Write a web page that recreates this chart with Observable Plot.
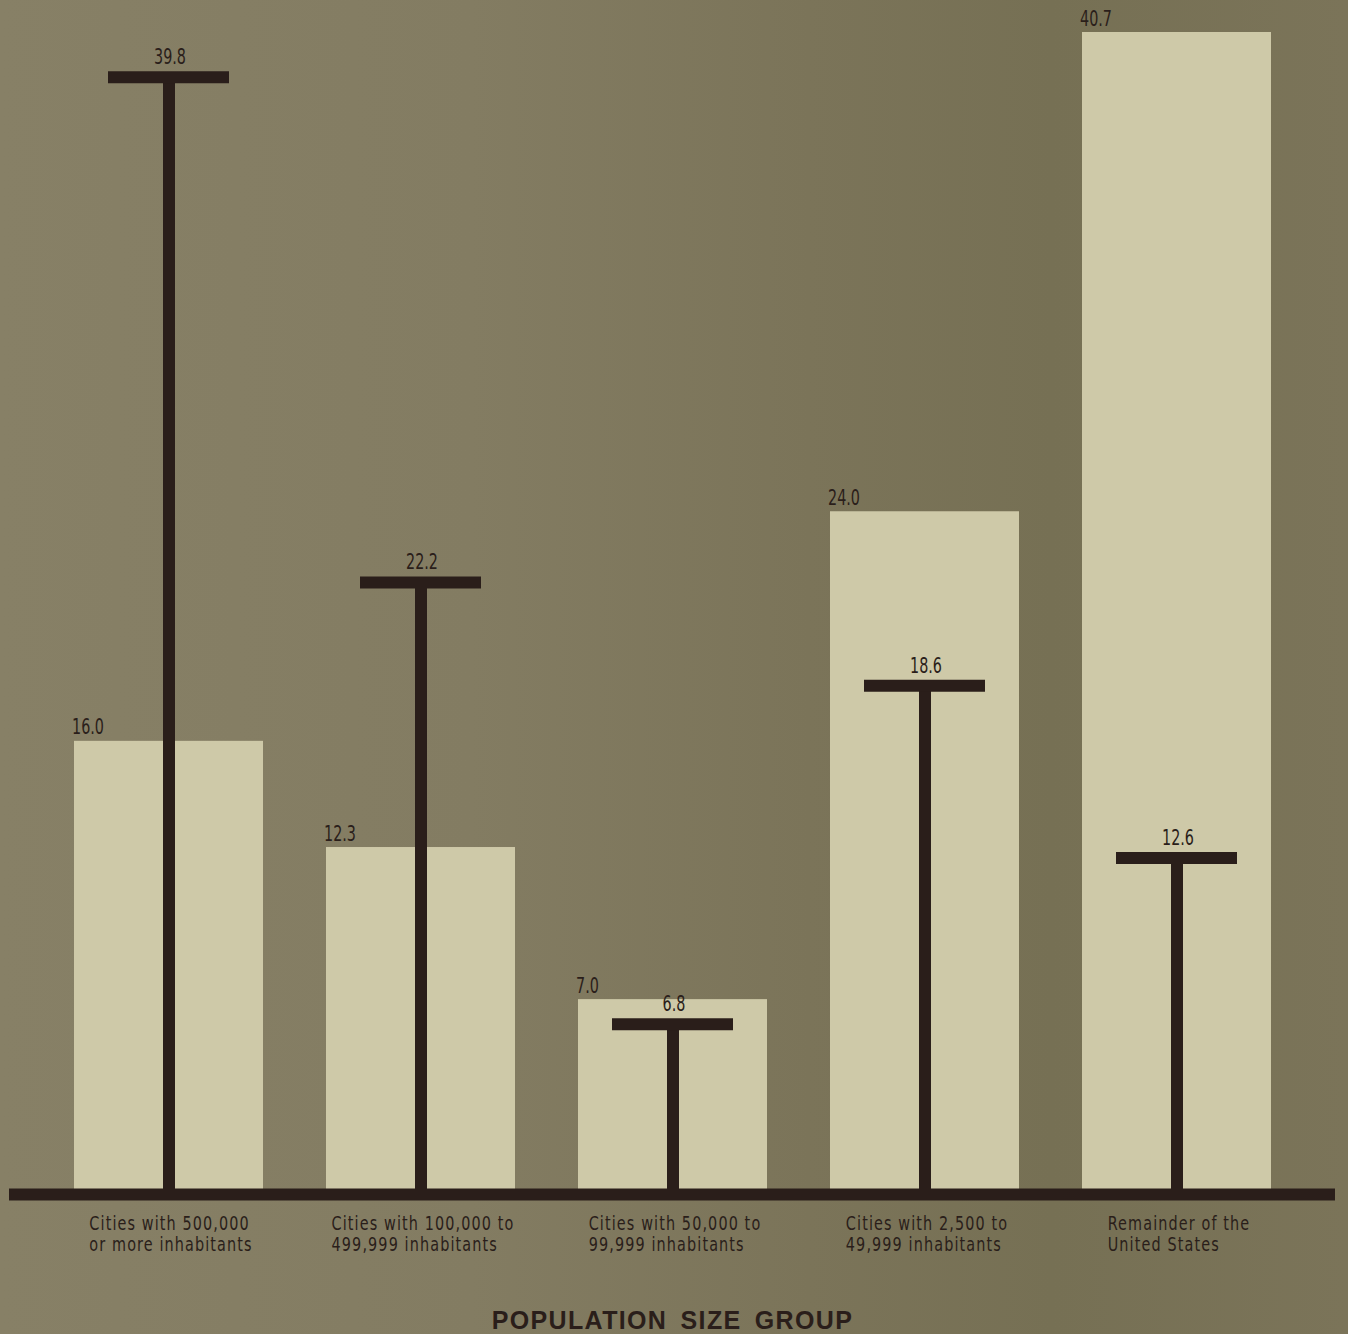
<!DOCTYPE html>
<html>
<head>
<meta charset="utf-8">
<script src="https://cdn.jsdelivr.net/npm/d3@7"></script>
<script src="https://cdn.jsdelivr.net/npm/@observablehq/plot@0.6"></script>
<style>
  html, body { margin: 0; padding: 0; }
  body {
    width: 1348px; height: 1334px; overflow: hidden;
    background: linear-gradient(90deg, #878066 0%, #837c62 35%, #7b7459 60%, #767054 78%, #7b7459 100%);
  }
  #chart svg { display: block; background: transparent; }
</style>
</head>
<body>
<div id="chart"></div>
<script>
// Categories (x labels, two lines each)
const categories = [
  "Cities with 500,000\nor more inhabitants",
  "Cities with 100,000 to\n499,999 inhabitants",
  "Cities with 50,000 to\n99,999 inhabitants",
  "Cities with 2,500 to\n49,999 inhabitants",
  "Remainder of the\nUnited States"
];
// Light bars
const barValues = [16.0, 12.3, 7.0, 24.0, 40.7];
// Dark T markers
const tValues = [39.8, 22.2, 6.8, 18.6, 12.6];
const axisTitle = "POPULATION SIZE GROUP";

const bars = categories.map((c, i) => ({cat: c, v: barValues[i]}));
const ts = categories.map((c, i) => ({cat: c, v: tValues[i]}));

const dark = "#2a1e1a";
const barFill = "#cec9a8";
const numFont = "'DejaVu Sans Condensed', 'DejaVu Sans', sans-serif";

const chart = Plot.plot({
  width: 1348,
  height: 1334,
  marginTop: 32,
  marginBottom: 134,
  marginLeft: 9,
  marginRight: 13,
  style: {background: "transparent", color: dark},
  x: {type: "band", domain: categories, padding: 0.25, axis: null},
  y: {domain: [0, 40.7], axis: null},
  marks: [
    Plot.barY(bars, {x: "cat", y: "v", fill: barFill}),
    // stems
    Plot.ruleX(ts, {x: "cat", y1: "v", y2: 0, stroke: dark, strokeWidth: 12, insetTop: 19}),
    // crossbars
    Plot.tickY(ts, {x: "cat", y: "v", stroke: dark, strokeWidth: 12, inset: 34, dy: 19}),
    // baseline
    Plot.ruleY([0], {stroke: dark, strokeWidth: 12, dy: -6}),
    // bar value labels
    Plot.text(bars, {x: "cat", y: "v", text: d => d.v.toFixed(1), textAnchor: "start", lineAnchor: "bottom",
      dx: -97, dy: -7, fontSize: 21, fontFamily: numFont, fill: dark}),
    // T value labels
    Plot.text(ts, {x: "cat", y: "v", text: d => d.v.toFixed(1), textAnchor: "middle", lineAnchor: "bottom",
      dx: 1, dy: 6, fontSize: 21, fontFamily: numFont, fill: dark}),
    // category labels
    Plot.text(categories, {x: d => d, y: () => 0, text: d => d, textAnchor: "middle", lineAnchor: "top",
      lineHeight: 1.07, dy: 14, dx: 2, fontSize: 20, fontFamily: numFont, fill: dark}),
    // axis title
    Plot.text([axisTitle], {frameAnchor: "bottom", text: d => d, lineAnchor: "bottom", dy: 128,
      fontSize: 25, fontWeight: "bold", fontFamily: "'Liberation Sans', Arial, sans-serif", fill: dark})
  ]
});

document.getElementById("chart").appendChild(chart);

function squeeze(t, s) {
  const tr = t.getAttribute("transform") || "";
  const x = +t.getAttribute("x") || 0;
  const y = +t.getAttribute("y") || 0;
  t.removeAttribute("x");
  t.removeAttribute("y");
  t.setAttribute("transform", `${tr} translate(${x},${y}) scale(${s},1)`);
}

const catSet = new Set(categories.map(c => c.replace("\n", "")));
chart.querySelectorAll("text").forEach(t => {
  const txt = t.textContent;
  if (catSet.has(txt)) {
    // left-align the two lines inside a centred block, condensed type
    t.setAttribute("letter-spacing", "1.4");
    const tspans = t.querySelectorAll("tspan");
    if (tspans.length) {
      const bb = t.getBBox();
      t.setAttribute("text-anchor", "start");
      tspans.forEach(s => s.setAttribute("x", bb.x));
    }
    squeeze(t, 0.8);
  } else if (/^\d+\.\d$/.test(txt)) {
    squeeze(t, 0.76);
  } else if (txt === axisTitle) {
    t.setAttribute("letter-spacing", "1.35");
    t.setAttribute("word-spacing", "5");
  }
});
</script>
</body>
</html>
